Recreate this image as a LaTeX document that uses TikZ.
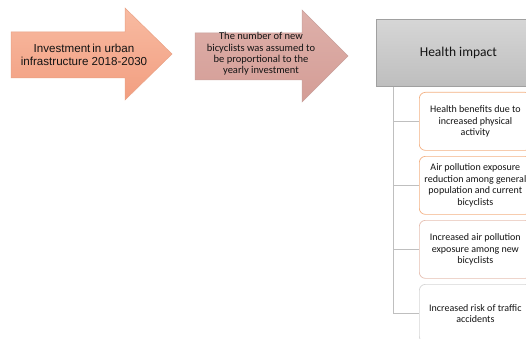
\documentclass[tikz,border=0pt]{standalone}
\usepackage{fontspec}
\setmainfont{Carlito}
\newfontfamily\arialf{Liberation Sans}
\begin{document}
\begin{tikzpicture}[x=1pt,y=-1pt,
  arrowone/.style={draw=arrowoneborder,line width=0.5pt,top color=arrowonetop,bottom color=arrowonebot},
  arrowtwo/.style={draw=arrowtwoborder,line width=0.5pt,top color=arrowtwotop,bottom color=arrowtwobot},
  leafbox/.style={draw=#1,line width=0.7pt,rounded corners=6pt,fill=white,minimum width=112pt,minimum height=58pt,align=center,inner sep=1pt,font=\fontsize{10}{11.5}\selectfont,text=textcol},
  treeline/.style={draw=treecol,line width=0.7pt},
  ]
\definecolor{arrowonetop}{HTML}{F8BBA2}
\definecolor{arrowonebot}{HTML}{F29E80}
\definecolor{arrowoneborder}{HTML}{E9A285}
\definecolor{arrowtwotop}{HTML}{DEB0AA}
\definecolor{arrowtwobot}{HTML}{D49D96}
\definecolor{arrowtwoborder}{HTML}{C9A19C}
\definecolor{hitop}{HTML}{D6D6D6}
\definecolor{hibot}{HTML}{BEBEBE}
\definecolor{hiborder}{HTML}{A0A0A0}
\definecolor{orangeb}{HTML}{F4B183}
\definecolor{pinkb}{HTML}{E6BFB2}
\definecolor{grayb}{HTML}{D6D6D6}
\definecolor{treecol}{HTML}{BFBFBF}
\definecolor{textcol}{HTML}{141414}
\useasboundingbox (0,0) rectangle (526,339);
\fill[white] (0,0) rectangle (526,339);
% arrow 1
\path[arrowone] (11,32) -- (125,32) -- (125,8) -- (172,54) -- (125,100) -- (125,78) -- (11,78) -- cycle;
\node[font=\arialf\fontsize{11.6}{13.5}\selectfont,align=center,text=textcol] (inv) at (84,55) {Investment\,in urban\\infrastructure 2018-2030};
% arrow 2
\path[arrowtwo] (195,33) -- (302,33) -- (302,10) -- (348,56) -- (302,102) -- (302,80) -- (195,80) -- cycle;
\node[font=\fontsize{10.5}{11.2}\selectfont,align=center,text=textcol] (num) at (261,54) {The number of new\\bicyclists was assumed to\\be proportional to the\\yearly investment};
% health impact
\node[draw=hiborder,line width=0.7pt,top color=hitop,bottom color=hibot,minimum width=164pt,minimum height=67pt,anchor=north west,font=\fontsize{13.5}{15}\selectfont,text=textcol] (hi) at (376,19) {Health impact};
% leaves
\node[leafbox=orangeb,anchor=north west] (b1) at (419,92) {Health benefits due to\\increased physical\\activity};
\node[leafbox=orangeb,anchor=north west] (b2) at (419,156) {Air pollution exposure\\reduction among general\\population and current\\bicyclists};
\node[leafbox=pinkb,anchor=north west] (b3) at (419,220) {Increased air pollution\\exposure among new\\bicyclists};
\node[leafbox=grayb,anchor=north west] (b4) at (419,284) {Increased risk of traffic\\accidents};
% tree
\coordinate (trunk) at ([xshift=17pt]hi.south west);
\draw[treeline] (trunk) |- (b4.west);
\draw[treeline] (trunk |- b1.west) -- (b1.west);
\draw[treeline] (trunk |- b2.west) -- (b2.west);
\draw[treeline] (trunk |- b3.west) -- (b3.west);
\end{tikzpicture}
\end{document}
